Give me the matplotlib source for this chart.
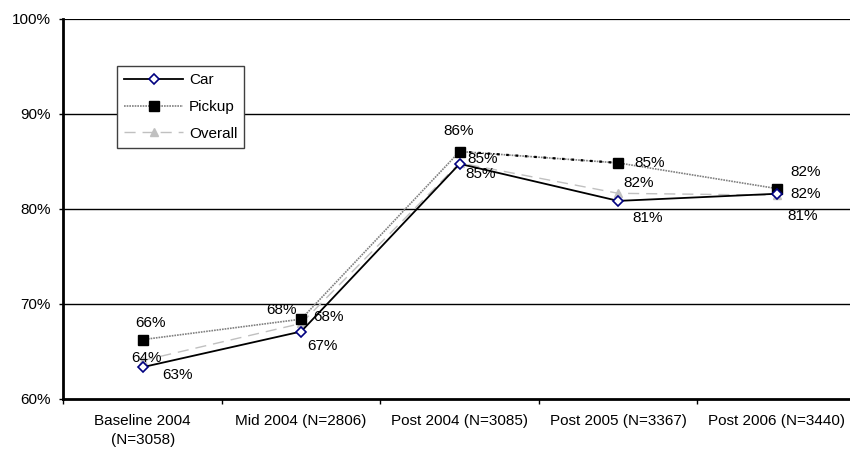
import matplotlib
matplotlib.use("Agg")
import matplotlib.pyplot as plt
from matplotlib.ticker import FixedLocator, NullFormatter

plt.rcParams['font.family'] = ['Liberation Sans', 'DejaVu Sans']

categories = ["Baseline 2004\n(N=3058)", "Mid 2004 (N=2806)", "Post 2004 (N=3085)",
              "Post 2005 (N=3367)", "Post 2006 (N=3440)"]
car = [63.3, 67.05, 84.7, 80.8, 81.55]
pickup = [66.2, 68.35, 86.0, 84.8, 82.1]
overall = [64.0, 67.9, 84.8, 81.6, 81.4]
y_ticks = [60, 70, 80, 90, 100]

# label offsets (points) per series and category
car_off = [(25, -5.5), (15, -10.5), (15, -7), (21, -12), (21, 0)]
pickup_off = [(6, 12), (20, 1.5), (-1, 14.5), (23, 0), (21, 12)]
overall_off = [(3, 2), (-14.5, 9.5), (16.5, 3), (15, 7.5), (19, -15)]

fig = plt.figure(figsize=(8.5, 4.51), dpi=100)
ax = fig.add_axes([63.4 / 850, 1 - 398.5 / 451, 792.5 / 850, 380 / 451])

x = list(range(len(categories)))

for yv in [70, 80, 90, 100]:
    ax.axhline(yv, color='black', lw=1.0 if yv < 100 else 1.6, zorder=1)

ax.plot(x, overall, color='#c0c0c0', lw=1.0, ls=(0, (8, 5)), marker='^',
        ms=6, mfc='#c0c0c0', mec='#c0c0c0', label='Overall', zorder=3)
ax.plot(x, pickup, color='#808080', lw=1.2, ls=(0, (1, 0.6)), marker='s',
        ms=7, mfc='black', mec='black', label='Pickup', zorder=4)
# heavier dotted segment between Post 2004 and Post 2005
ax.plot(x[2:4], pickup[2:4], color='black', lw=1.6, ls=(0, (1.2, 3)), zorder=4)
ax.plot(x, car, color='black', lw=1.3, ls='-', marker='D',
        ms=5.5, mfc='white', mec='#000080', mew=1.2, label='Car', zorder=5)

for series, offs in [(car, car_off), (pickup, pickup_off), (overall, overall_off)]:
    for xi, v, off in zip(x, series, offs):
        ax.annotate(f"{round(v)}%", (xi, v), xytext=off, textcoords='offset points',
                    ha='center', va='center', fontsize=11, zorder=6)

ax.set_xlim(-0.5, len(categories) - 0.5)
ax.set_ylim(60, 100)
ax.set_yticks(y_ticks)
ax.set_yticklabels([f"{t}%" for t in y_ticks], fontsize=11)
ax.xaxis.set_major_locator(FixedLocator([i - 0.5 for i in range(len(categories))]))
ax.xaxis.set_major_formatter(NullFormatter())
ax.xaxis.set_minor_locator(FixedLocator(x))
ax.set_xticklabels(categories, minor=True, fontsize=11, linespacing=1.45)
ax.tick_params(axis='x', which='minor', length=0, pad=11.5)
ax.tick_params(axis='x', which='major', length=3.5, width=1, direction='out')
ax.tick_params(axis='y', length=3, width=1, direction='out', pad=6)

for s in ['top', 'right']:
    ax.spines[s].set_visible(False)
ax.spines['left'].set_linewidth(2)
ax.spines['bottom'].set_linewidth(2)

handles, labels = ax.get_legend_handles_labels()
order = [2, 1, 0]
leg = ax.legend([handles[i] for i in order], [labels[i] for i in order],
                loc='upper left', bbox_to_anchor=(0.0676, 0.8737), fontsize=11,
                handlelength=3.9, labelspacing=0.83, fancybox=False,
                edgecolor='#404040', framealpha=1, borderpad=0.45,
                handletextpad=0.35, borderaxespad=0)
leg.get_frame().set_linewidth(1.0)

fig.savefig("out.png", dpi=100)
